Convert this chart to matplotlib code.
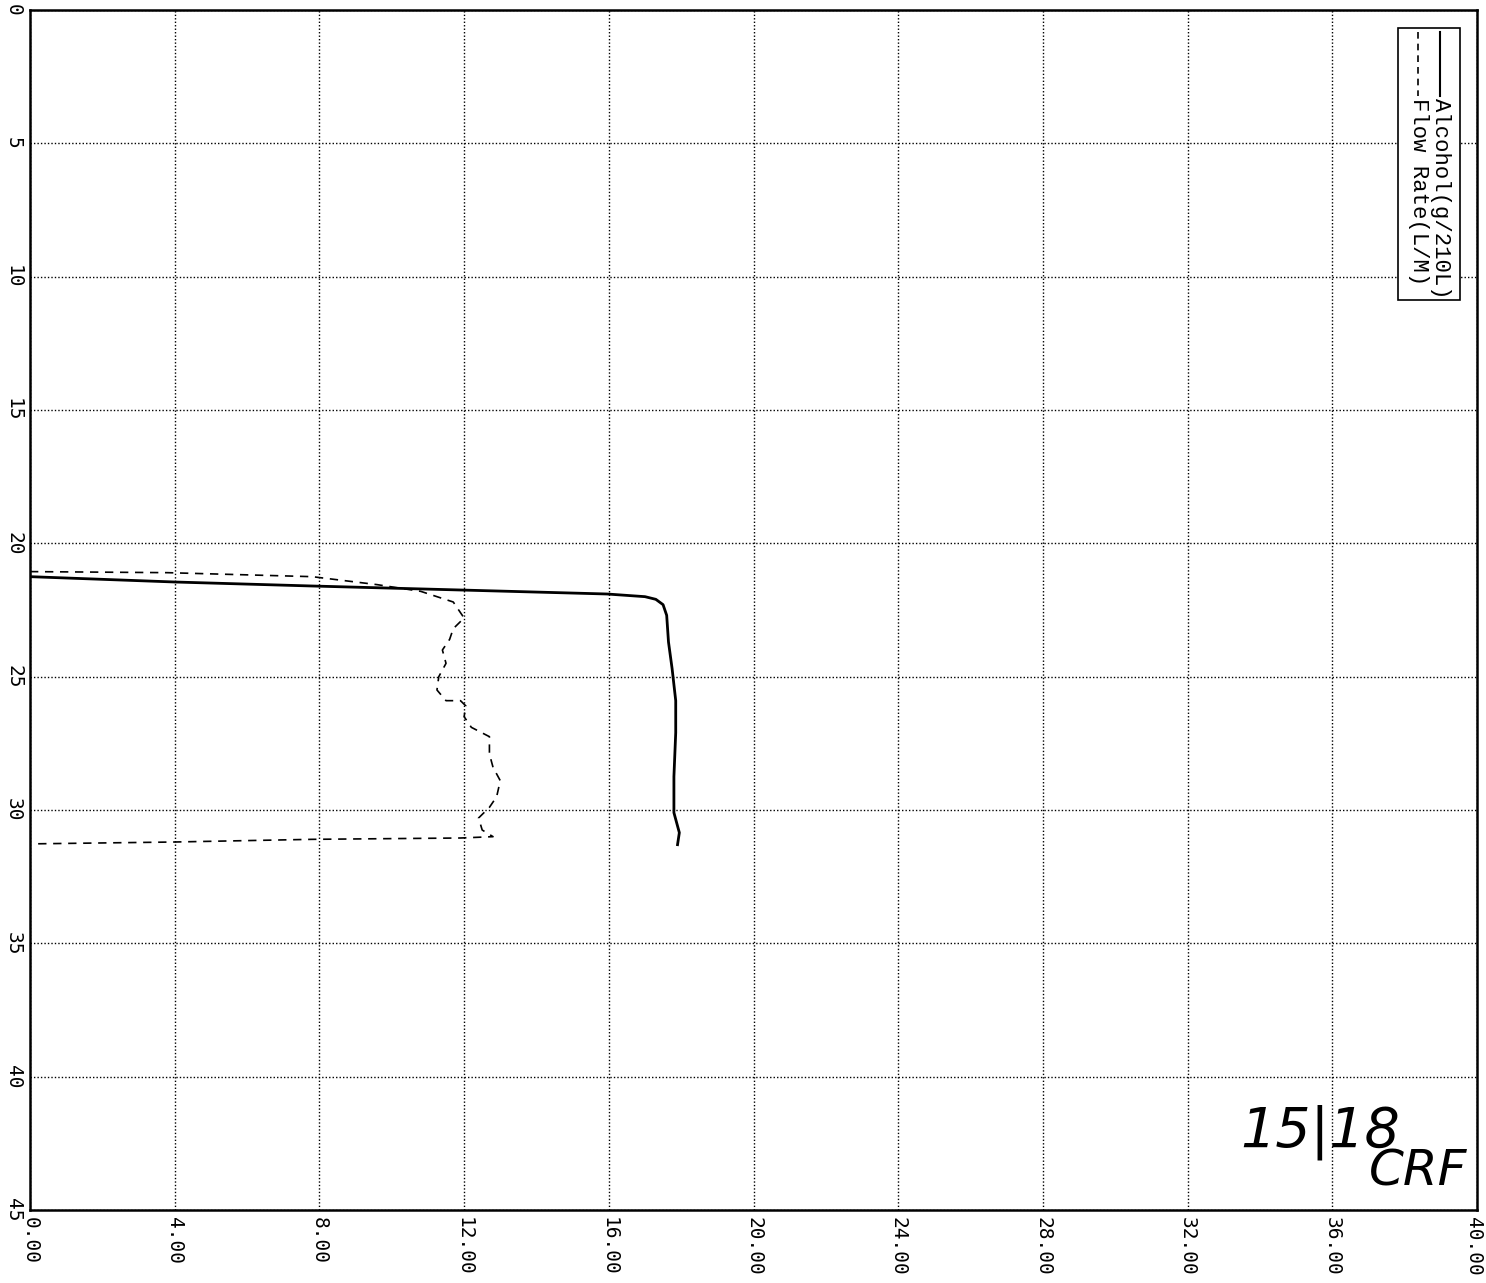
import numpy as np
import matplotlib.pyplot as plt
import matplotlib.transforms as mtransforms
from matplotlib.patches import Rectangle

# alcohol trace (x = g/210L, y = time)
alc_x = [0.0, 4.0, 7.8, 11.9, 15.95, 17.0, 17.3, 17.5, 17.6, 17.65, 17.75, 17.85, 17.85, 17.8, 17.8, 17.95, 17.9]
alc_y = [21.25, 21.45, 21.6, 21.75, 21.9, 22.0, 22.1, 22.3, 22.7, 23.7, 24.7, 25.9, 27.1, 28.75, 30.1, 30.85, 31.3]

# flow rate trace (x = L/M, y = time)
flow_x = [0.0, 3.8, 7.8, 9.6, 10.8, 11.7, 12.0, 11.7, 11.6, 11.4, 11.5, 11.3, 11.25, 11.5, 11.9, 12.05,
          12.0, 12.2, 12.7, 12.7, 12.8, 13.0, 12.9, 12.7, 12.4, 12.5, 12.8, 11.9, 7.8, 4.0, 0.05]
flow_y = [21.06, 21.1, 21.25, 21.55, 21.8, 22.2, 22.8, 23.2, 23.6, 24.0, 24.5, 25.0, 25.5, 25.9, 25.9, 26.1,
          26.5, 26.9, 27.25, 27.9, 28.4, 28.9, 29.5, 29.9, 30.3, 30.75, 31.0, 31.05, 31.1, 31.2, 31.27]

x_ticks = [0, 4, 8, 12, 16, 20, 24, 28, 32, 36, 40]
y_ticks = [0, 5, 10, 15, 20, 25, 30, 35, 40, 45]
labels = ['Alcohol(g/210L)', 'Flow Rate(L/M)']

fig = plt.figure(figsize=(14.86, 12.83), dpi=100)
ax = fig.add_axes([30/1486, 1 - 1210/1283, 1447/1486, 1200/1283])

ax.plot(alc_x, alc_y, color='black', lw=2.0, solid_joinstyle='round')
ax.plot(flow_x, flow_y, color='black', lw=1.2, linestyle=(0, (5, 4)))

ax.set_xlim(0, 40)
ax.set_ylim(45, 0)
ax.set_xticks(x_ticks)
ax.set_yticks(y_ticks)
ax.set_xticklabels([f'{v:.2f}' for v in x_ticks], rotation=-90, fontsize=14,
                   family='DejaVu Sans Mono', va='top', ha='center')
ax.set_yticklabels([str(v) for v in y_ticks], rotation=-90, fontsize=14,
                   family='DejaVu Sans Mono', va='center', ha='right')
ax.tick_params(length=0, pad=5)
ax.grid(True, color='black', linestyle=(0, (1, 1.5)), lw=1.0)
for s in ax.spines.values():
    s.set_linewidth(1.8)

# nudge the last x label so it stays on the page
last = ax.get_xticklabels()[-1]
last.set_transform(last.get_transform() +
                   mtransforms.ScaledTranslation(-4/100, 0, fig.dpi_scale_trans))

# legend drawn rotated like the printout
bx0, bx1 = (1398 - 30)/1447, (1460 - 30)/1447
by0, by1 = 1 - (300 - 10)/1200, 1 - (28 - 10)/1200
ax.add_patch(Rectangle((bx0, by0), bx1 - bx0, by1 - by0, transform=ax.transAxes,
                       facecolor='white', edgecolor='black', lw=1.2, zorder=5))
lx_alc = (1440 - 30) / 1447
lx_flow = (1418 - 30) / 1447
ax.plot([lx_alc, lx_alc], [1 - 22/1200, 1 - 86/1200], transform=ax.transAxes,
        color='black', lw=1.5, zorder=6)
ax.plot([lx_flow, lx_flow], [1 - 22/1200, 1 - 86/1200], transform=ax.transAxes,
        color='black', lw=1.2, linestyle=(0, (4, 3)), zorder=6)
for lx, lab in [(lx_alc, labels[0]), (lx_flow, labels[1])]:
    ax.text(lx, 1 - 88/1200, lab, transform=ax.transAxes, rotation=-90,
            ha='center', va='top', fontsize=16, family='Liberation Mono', zorder=6)

# handwritten note
fig.text(1320/1486, 1 - 1132/1283, '15|18', fontsize=40, style='italic',
         ha='center', va='center', family='DejaVu Sans')
fig.text(1418/1486, 1 - 1172/1283, 'CRF', fontsize=36, style='italic',
         ha='center', va='center', family='DejaVu Sans')

fig.savefig('out.png', dpi=100, facecolor='white')
